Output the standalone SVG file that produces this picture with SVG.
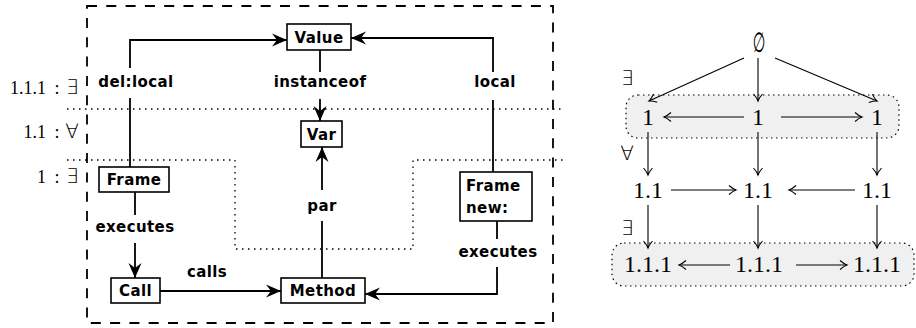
<svg xmlns="http://www.w3.org/2000/svg" width="916" height="328" viewBox="0 0 916 328">
<defs>
<marker id="stealth" markerUnits="userSpaceOnUse" markerWidth="16" markerHeight="16" refX="15" refY="7" orient="auto" viewBox="0 0 16 14">
<path d="M0,0.5 L15,7 L0,13.5 L5,7 Z" fill="#000"/>
</marker>
<marker id="vee" markerUnits="userSpaceOnUse" markerWidth="12" markerHeight="12" refX="10" refY="6" orient="auto" viewBox="0 0 12 12">
<path d="M3,1.5 Q7,5 10,6 Q7,7 3,10.5" fill="none" stroke="#000" stroke-width="1.1"/>
</marker>
<style>
.box{fill:#fff;stroke:#000;stroke-width:1.6}
.bt{font-family:"DejaVu Sans",sans-serif;font-weight:bold;font-size:15px;fill:#000;letter-spacing:0.4px}
.lbl{font-family:"DejaVu Sans",sans-serif;font-weight:bold;font-size:15px;fill:#000;text-anchor:middle;letter-spacing:0.4px}
.ser{font-family:"Liberation Serif","DejaVu Serif",serif;font-size:18px;fill:#000}
.sym{font-family:"DejaVu Sans ExtraLight","DejaVu Sans","DejaVu Serif",sans-serif;font-weight:200;font-size:20px;fill:#000;text-anchor:middle}
.big{font-family:"Liberation Serif","DejaVu Serif",serif;font-size:24px;fill:#000;text-anchor:middle}
.edge{fill:none;stroke:#000;stroke-width:1.8}
.redge{fill:none;stroke:#000;stroke-width:1.1}
.dot{fill:none;stroke:#000;stroke-width:1.3;stroke-dasharray:1.5,4.5}
.dash{fill:none;stroke:#000;stroke-width:1.8;stroke-dasharray:10,9.3}
.grp{fill:#f0f0f0;stroke:#000;stroke-width:1.2;stroke-dasharray:1.5,3.5}
</style>
</defs>

<!-- frames -->
<rect class="dash" x="87" y="6" width="466" height="317"/>
<path class="dot" d="M67,109 H563"/>
<path class="dot" d="M67,160 H235 V249 H413 V160 H563"/>

<!-- level labels -->
<text class="ser" x="46" y="94" text-anchor="end">1.1.1</text>
<text class="ser" x="57" y="94" text-anchor="middle">:</text>
<text class="sym" x="72" y="94">∃</text>
<text class="ser" x="46" y="138" text-anchor="end">1.1</text>
<text class="ser" x="57" y="138" text-anchor="middle">:</text>
<text class="sym" x="72" y="138">∀</text>
<text class="ser" x="46" y="183" text-anchor="end">1</text>
<text class="ser" x="57" y="183" text-anchor="middle">:</text>
<text class="sym" x="72" y="183">∃</text>

<!-- connectors -->
<g id="connectors">
<path class="edge" d="M130,167 V98"/>
<path class="edge" d="M130,68 V40 H287" marker-end="url(#stealth)"/>
<path class="edge" d="M493,172 V100"/>
<path class="edge" d="M493,72 V38 H351" marker-end="url(#stealth)"/>
<path class="edge" d="M320,50 V72"/>
<path class="edge" d="M320,99 V121" marker-end="url(#stealth)"/>
<path class="edge" d="M322,278 V221"/>
<path class="edge" d="M322,190 V147" marker-end="url(#stealth)"/>
<path class="edge" d="M135,192 V215"/>
<path class="edge" d="M135,243 V278" marker-end="url(#stealth)"/>
<path class="edge" d="M160,291 H281" marker-end="url(#stealth)"/>
<path class="edge" d="M497,221 V239"/>
<path class="edge" d="M497,267 V294 H365" marker-end="url(#stealth)"/>
<text class="lbl" x="136" y="87">del:local</text>
<text class="lbl" x="320" y="87">instanceof</text>
<text class="lbl" x="495" y="87">local</text>
<text class="lbl" x="322" y="211">par</text>
<text class="lbl" x="135" y="232">executes</text>
<text class="lbl" x="207" y="277">calls</text>
<text class="lbl" x="498" y="257">executes</text>
</g>

<g id="value"><rect class="box" x="287" y="24" width="64" height="26"/><text class="bt" x="319" y="43" text-anchor="middle">Value</text></g>
<g id="var"><rect class="box" x="301" y="121" width="41" height="26"/><text class="bt" x="321.5" y="140" text-anchor="middle">Var</text></g>
<g id="frame"><rect class="box" x="99" y="167" width="70" height="25"/><text class="bt" x="134" y="185" text-anchor="middle">Frame</text></g>
<g id="call"><rect class="box" x="111" y="278" width="49" height="25"/><text class="bt" x="135.5" y="296" text-anchor="middle">Call</text></g>
<g id="method"><rect class="box" x="281" y="278" width="84" height="25"/><text class="bt" x="323" y="296" text-anchor="middle">Method</text></g>
<g id="framenew"><rect class="box" x="460" y="172" width="72" height="49"/><text class="bt" x="466" y="191">Frame</text><text class="bt" x="466" y="213">new:</text></g>

<!-- right lattice -->
<rect class="grp" x="626" y="95" width="273" height="43" rx="12"/>
<rect class="grp" x="612" y="243" width="302" height="43" rx="12"/>
<g id="r-connectors">
<path class="redge" d="M744,58 L649,101" marker-end="url(#vee)"/>
<path class="redge" d="M758,58 V101" marker-end="url(#vee)"/>
<path class="redge" d="M775,58 L877,101" marker-end="url(#vee)"/>
<path class="redge" d="M744,117 H664" marker-end="url(#vee)"/>
<path class="redge" d="M781,117 H862" marker-end="url(#vee)"/>
<path class="redge" d="M648,132 V175" marker-end="url(#vee)"/>
<path class="redge" d="M758,132 V175" marker-end="url(#vee)"/>
<path class="redge" d="M877,132 V175" marker-end="url(#vee)"/>
<path class="redge" d="M671,190 H736" marker-end="url(#vee)"/>
<path class="redge" d="M855,190 H789" marker-end="url(#vee)"/>
<path class="redge" d="M648,205 V248" marker-end="url(#vee)"/>
<path class="redge" d="M758,205 V248" marker-end="url(#vee)"/>
<path class="redge" d="M877,205 V248" marker-end="url(#vee)"/>
<path class="redge" d="M730,265 H679" marker-end="url(#vee)"/>
<path class="redge" d="M796,265 H847" marker-end="url(#vee)"/>
</g>
<text class="sym" x="627" y="85">∃</text>
<text class="sym" x="627" y="160">∀</text>
<text class="sym" x="627" y="235">∃</text>
<g id="n-empty"><text transform="translate(759,52) scale(0.6,1.15)" x="0" y="0" font-family="DejaVu Sans, sans-serif" font-size="24" text-anchor="middle" fill="#000">∅</text></g>
<g id="n-1a"><text class="big" x="648" y="125">1</text></g>
<g id="n-1b"><text class="big" x="758" y="125">1</text></g>
<g id="n-1c"><text class="big" x="877" y="125">1</text></g>
<g id="n-11a"><text class="big" x="648" y="198">1.1</text></g>
<g id="n-11b"><text class="big" x="758" y="198">1.1</text></g>
<g id="n-11c"><text class="big" x="877" y="198">1.1</text></g>
<g id="n-111a"><text class="big" x="648" y="272">1.1.1</text></g>
<g id="n-111b"><text class="big" x="759" y="272">1.1.1</text></g>
<g id="n-111c"><text class="big" x="877" y="272">1.1.1</text></g>
</svg>
